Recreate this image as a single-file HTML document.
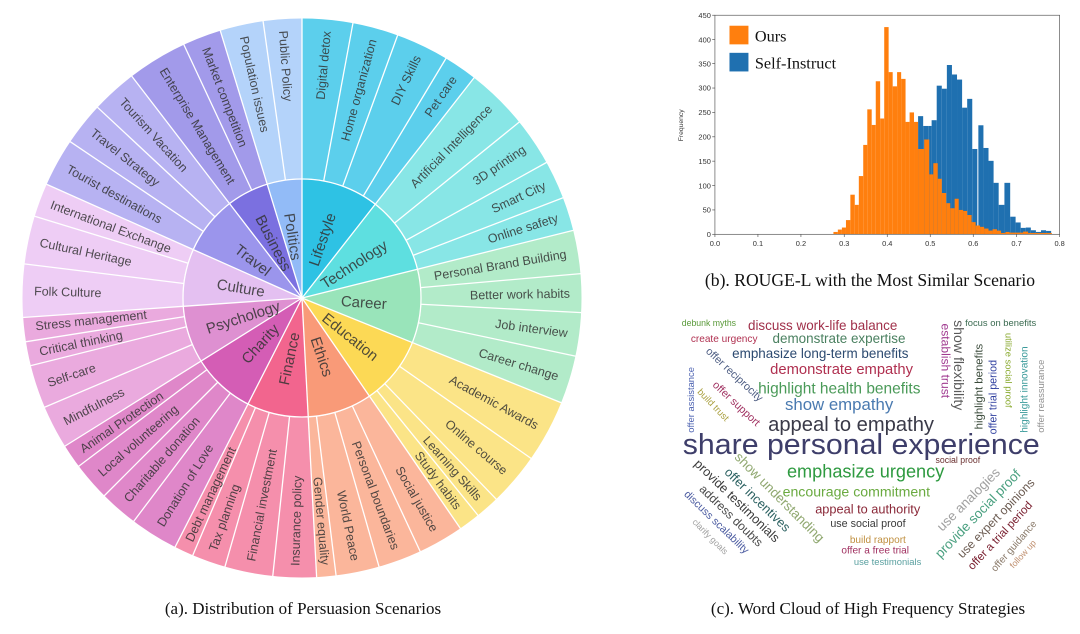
<!DOCTYPE html>
<html><head><meta charset="utf-8"><style>
html,body{margin:0;padding:0;background:#fff;width:1080px;height:634px;overflow:hidden;position:relative}
svg{position:absolute}
.lf{font-family:"Liberation Sans",sans-serif;font-size:12.5px;fill:#333;fill-opacity:.85}
.in{font-family:"Liberation Sans",sans-serif;font-size:15px;fill:#333;fill-opacity:.85}
.cap{font-family:"Liberation Serif",serif;font-size:17px;fill:#111}
.wc text{font-family:"Liberation Sans",sans-serif}
</style></head><body>
<svg width="1080" height="634" style="left:0;top:0">
<text class="cap" x="303" y="614" text-anchor="middle">(a). Distribution of Persuasion Scenarios</text>
<text class="cap" x="868" y="614" text-anchor="middle">(c). Word Cloud of High Frequency Strategies</text>
</svg>

<svg width="610" height="600" style="left:0;top:0">
<g transform="translate(302,298)" fill="none">
<g stroke-width="119">
<circle r="59.5" pathLength="360" stroke="#2ec2e4" stroke-dasharray="38 360" transform="rotate(-90)"/>
<circle r="59.5" pathLength="360" stroke="#5edfe0" stroke-dasharray="38 360" transform="rotate(-52)"/>
<circle r="59.5" pathLength="360" stroke="#99e4ba" stroke-dasharray="36 360" transform="rotate(-14)"/>
<circle r="59.5" pathLength="360" stroke="#fcd955" stroke-dasharray="33.5 360" transform="rotate(22)"/>
<circle r="59.5" pathLength="360" stroke="#f99a78" stroke-dasharray="31.5 360" transform="rotate(55.5)"/>
<circle r="59.5" pathLength="360" stroke="#f2658e" stroke-dasharray="30 360" transform="rotate(87)"/>
<circle r="59.5" pathLength="360" stroke="#d45db5" stroke-dasharray="31 360" transform="rotate(117)"/>
<circle r="59.5" pathLength="360" stroke="#de90d1" stroke-dasharray="28 360" transform="rotate(148)"/>
<circle r="59.5" pathLength="360" stroke="#e4c0f1" stroke-dasharray="28 360" transform="rotate(176)"/>
<circle r="59.5" pathLength="360" stroke="#9b95ec" stroke-dasharray="28.5 360" transform="rotate(204)"/>
<circle r="59.5" pathLength="360" stroke="#7b70e0" stroke-dasharray="20.5 360" transform="rotate(232.5)"/>
<circle r="59.5" pathLength="360" stroke="#92bbf7" stroke-dasharray="17 360" transform="rotate(253)"/>
</g>
<g stroke-width="160">
<circle r="199.5" pathLength="360" stroke="#5ccfec" stroke-dasharray="38 360" transform="rotate(-90)"/>
<circle r="199.5" pathLength="360" stroke="#88e6e6" stroke-dasharray="38 360" transform="rotate(-52)"/>
<circle r="199.5" pathLength="360" stroke="#b2ebc9" stroke-dasharray="36 360" transform="rotate(-14)"/>
<circle r="199.5" pathLength="360" stroke="#fbe487" stroke-dasharray="33.5 360" transform="rotate(22)"/>
<circle r="199.5" pathLength="360" stroke="#fbb69b" stroke-dasharray="31.5 360" transform="rotate(55.5)"/>
<circle r="199.5" pathLength="360" stroke="#f58fac" stroke-dasharray="30 360" transform="rotate(87)"/>
<circle r="199.5" pathLength="360" stroke="#df87c9" stroke-dasharray="31 360" transform="rotate(117)"/>
<circle r="199.5" pathLength="360" stroke="#eaaade" stroke-dasharray="28 360" transform="rotate(148)"/>
<circle r="199.5" pathLength="360" stroke="#eecdf5" stroke-dasharray="28 360" transform="rotate(176)"/>
<circle r="199.5" pathLength="360" stroke="#b7b2f2" stroke-dasharray="28.5 360" transform="rotate(204)"/>
<circle r="199.5" pathLength="360" stroke="#a29aea" stroke-dasharray="20.5 360" transform="rotate(232.5)"/>
<circle r="199.5" pathLength="360" stroke="#b4d3fa" stroke-dasharray="17 360" transform="rotate(253)"/>
</g>
<g stroke="#fff" stroke-width="1.3">
<circle r="119"/>
<line x1="0" x2="119" transform="rotate(-90)"/><line x1="0" x2="119" transform="rotate(-52)"/><line x1="0" x2="119" transform="rotate(-14)"/><line x1="0" x2="119" transform="rotate(22)"/><line x1="0" x2="119" transform="rotate(55.5)"/><line x1="0" x2="119" transform="rotate(87)"/><line x1="0" x2="119" transform="rotate(117)"/><line x1="0" x2="119" transform="rotate(148)"/><line x1="0" x2="119" transform="rotate(176)"/><line x1="0" x2="119" transform="rotate(204)"/><line x1="0" x2="119" transform="rotate(232.5)"/><line x1="0" x2="119" transform="rotate(253)"/>
<line x1="119" x2="280" transform="rotate(-90)"/><line x1="119" x2="280" transform="rotate(-79.5)"/><line x1="119" x2="280" transform="rotate(-70)"/><line x1="119" x2="280" transform="rotate(-59)"/><line x1="119" x2="280" transform="rotate(-52)"/>
<line x1="119" x2="280" transform="rotate(-39)"/><line x1="119" x2="280" transform="rotate(-29)"/><line x1="119" x2="280" transform="rotate(-21)"/><line x1="119" x2="280" transform="rotate(-14)"/>
<line x1="119" x2="280" transform="rotate(-5)"/><line x1="119" x2="280" transform="rotate(3)"/><line x1="119" x2="280" transform="rotate(12)"/><line x1="119" x2="280" transform="rotate(22)"/>
<line x1="119" x2="280" transform="rotate(35)"/><line x1="119" x2="280" transform="rotate(46)"/><line x1="119" x2="280" transform="rotate(51)"/><line x1="119" x2="280" transform="rotate(55.5)"/>
<line x1="119" x2="280" transform="rotate(65)"/><line x1="119" x2="280" transform="rotate(74)"/><line x1="119" x2="280" transform="rotate(83)"/><line x1="119" x2="280" transform="rotate(87)"/>
<line x1="119" x2="280" transform="rotate(96)"/><line x1="119" x2="280" transform="rotate(106)"/><line x1="119" x2="280" transform="rotate(113)"/><line x1="119" x2="280" transform="rotate(117)"/>
<line x1="119" x2="280" transform="rotate(127)"/><line x1="119" x2="280" transform="rotate(135)"/><line x1="119" x2="280" transform="rotate(143)"/><line x1="119" x2="280" transform="rotate(148)"/>
<line x1="119" x2="280" transform="rotate(157)"/><line x1="119" x2="280" transform="rotate(166)"/><line x1="119" x2="280" transform="rotate(171)"/><line x1="119" x2="280" transform="rotate(176)"/>
<line x1="119" x2="280" transform="rotate(187)"/><line x1="119" x2="280" transform="rotate(197)"/><line x1="119" x2="280" transform="rotate(204)"/>
<line x1="119" x2="280" transform="rotate(214)"/><line x1="119" x2="280" transform="rotate(223)"/><line x1="119" x2="280" transform="rotate(232.5)"/>
<line x1="119" x2="280" transform="rotate(245)"/><line x1="119" x2="280" transform="rotate(253)"/><line x1="119" x2="280" transform="rotate(262)"/>
</g>
<g class="in" text-anchor="middle">
<text transform="rotate(-71)" x="62" dy=".35em">Lifestyle</text>
<text transform="rotate(-33)" x="62" dy=".35em">Technology</text>
<text transform="rotate(4)" x="62" dy=".35em">Career</text>
<text transform="rotate(38.75)" x="62" dy=".35em">Education</text>
<text transform="rotate(71.25)" x="62" dy=".35em">Ethics</text>
<text transform="rotate(-78)" x="-62" dy=".35em">Finance</text>
<text transform="rotate(-47.5)" x="-62" dy=".35em">Charity</text>
<text transform="rotate(-18)" x="-62" dy=".35em">Psychology</text>
<text transform="rotate(9.5)" x="-62" dy=".35em">Culture</text>
<text transform="rotate(37.75)" x="-62" dy=".35em">Travel</text>
<text transform="rotate(62.75)" x="-62" dy=".35em">Business</text>
<text transform="rotate(81.5)" x="-62" dy=".35em">Politics</text>
</g>
<g class="lf" text-anchor="end">
<text transform="rotate(-84.75)" x="268" dy=".35em">Digital detox</text>
<text transform="rotate(-74.75)" x="268" dy=".35em">Home organization</text>
<text transform="rotate(-64.5)" x="268" dy=".35em">DIY Skills</text>
<text transform="rotate(-55.5)" x="268" dy=".35em">Pet care</text>
<text transform="rotate(-45.5)" x="268" dy=".35em">Artificial Intelligence</text>
<text transform="rotate(-34)" x="268" dy=".35em">3D printing</text>
<text transform="rotate(-25)" x="268" dy=".35em">Smart City</text>
<text transform="rotate(-17.5)" x="268" dy=".35em">Online safety</text>
<text transform="rotate(-9.5)" x="268" dy=".35em">Personal Brand Building</text>
<text transform="rotate(-1)" x="268" dy=".35em">Better work habits</text>
<text transform="rotate(7.5)" x="268" dy=".35em">Job interview</text>
<text transform="rotate(17)" x="268" dy=".35em">Career change</text>
<text transform="rotate(28.5)" x="268" dy=".35em">Academic Awards</text>
<text transform="rotate(40.5)" x="268" dy=".35em">Online course</text>
<text transform="rotate(48.5)" x="268" dy=".35em">Learning Skills</text>
<text transform="rotate(53.25)" x="262" dy=".35em">Study habits</text>
<text transform="rotate(60.25)" x="268" dy=".35em">Social justice</text>
<text transform="rotate(69.5)" x="268" dy=".35em">Personal boundaries</text>
<text transform="rotate(78.5)" x="268" dy=".35em">World Peace</text>
<text transform="rotate(85)" x="268" dy=".35em">Gender equality</text>
</g>
<g class="lf" text-anchor="start">
<text transform="rotate(-88.5)" x="-268" dy=".35em">Insurance policy</text>
<text transform="rotate(-79)" x="-268" dy=".35em">Financial investment</text>
<text transform="rotate(-70.5)" x="-268" dy=".35em">Tax planning</text>
<text transform="rotate(-65)" x="-268" dy=".35em">Debt management</text>
<text transform="rotate(-58)" x="-268" dy=".35em">Donation of Love</text>
<text transform="rotate(-49)" x="-268" dy=".35em">Charitable donation</text>
<text transform="rotate(-41)" x="-268" dy=".35em">Local volunteering</text>
<text transform="rotate(-34.5)" x="-268" dy=".35em">Animal Protection</text>
<text transform="rotate(-27.5)" x="-268" dy=".35em">Mindfulness</text>
<text transform="rotate(-18.5)" x="-268" dy=".35em">Self-care</text>
<text transform="rotate(-11.5)" x="-268" dy=".35em">Critical thinking</text>
<text transform="rotate(-6)" x="-268" dy=".35em">Stress management</text>
<text transform="rotate(1.5)" x="-268" dy=".35em">Folk Culture</text>
<text transform="rotate(12)" x="-268" dy=".35em">Cultural Heritage</text>
<text transform="rotate(20.5)" x="-268" dy=".35em">International Exchange</text>
<text transform="rotate(29)" x="-268" dy=".35em">Tourist destinations</text>
<text transform="rotate(38.5)" x="-268" dy=".35em">Travel Strategy</text>
<text transform="rotate(47.75)" x="-268" dy=".35em">Tourism Vacation</text>
<text transform="rotate(58.75)" x="-268" dy=".35em">Enterprise Management</text>
<text transform="rotate(69)" x="-268" dy=".35em">Market competition</text>
<text transform="rotate(77.5)" x="-268" dy=".35em">Population issues</text>
<text transform="rotate(86)" x="-268" dy=".35em">Public Policy</text>
</g>
</g>
</svg>

<svg width="420" height="300" viewBox="0 0 1240 886" style="left:660px;top:0">
<g fill="#1f70b0">
<rect x="762" y="343" width="15" height="349"/><rect x="777" y="372" width="15" height="320"/><rect x="792" y="372" width="10" height="320"/><rect x="802" y="355" width="15" height="337"/>
<rect x="817" y="253" width="15" height="439"/><rect x="832" y="262" width="15" height="430"/><rect x="847" y="192" width="15" height="500"/><rect x="862" y="220" width="15" height="472"/>
<rect x="877" y="235" width="15" height="457"/><rect x="892" y="318" width="15" height="374"/><rect x="907" y="292" width="15" height="400"/><rect x="922" y="440" width="15" height="252"/>
<rect x="940" y="370" width="15" height="322"/><rect x="955" y="437" width="15" height="255"/><rect x="970" y="475" width="15" height="217"/><rect x="985" y="540" width="15" height="152"/>
<rect x="1000" y="605" width="17" height="87"/><rect x="1017" y="540" width="17" height="152"/><rect x="1034" y="640" width="16" height="52"/><rect x="1050" y="657" width="15" height="35"/>
<rect x="1065" y="673" width="15" height="19"/><rect x="1080" y="672" width="15" height="20"/><rect x="1095" y="680" width="15" height="12"/><rect x="1110" y="685" width="15" height="7"/>
<rect x="1125" y="680" width="15" height="12"/><rect x="1140" y="682" width="15" height="10"/>
</g>
<g fill="#ff7f0e">
<rect x="512" y="685" width="13" height="7"/><rect x="525" y="678" width="12" height="14"/><rect x="537" y="672" width="12" height="20"/><rect x="549" y="650" width="13" height="42"/>
<rect x="562" y="575" width="13" height="117"/><rect x="575" y="605" width="12" height="87"/><rect x="587" y="520" width="13" height="172"/><rect x="600" y="428" width="12" height="264"/>
<rect x="612" y="323" width="13" height="369"/><rect x="625" y="369" width="12" height="323"/><rect x="637" y="240" width="13" height="452"/><rect x="650" y="350" width="12" height="342"/>
<rect x="662" y="80" width="13" height="612"/><rect x="675" y="213" width="12" height="479"/><rect x="687" y="255" width="13" height="437"/><rect x="700" y="213" width="12" height="479"/>
<rect x="712" y="233" width="13" height="459"/><rect x="725" y="360" width="12" height="332"/><rect x="737" y="332" width="13" height="360"/><rect x="750" y="360" width="12" height="332"/>
<rect x="762" y="440" width="18" height="252"/><rect x="780" y="412" width="15" height="280"/><rect x="795" y="515" width="12" height="177"/><rect x="807" y="482" width="13" height="210"/>
<rect x="820" y="528" width="12" height="164"/><rect x="832" y="570" width="13" height="122"/><rect x="845" y="600" width="12" height="92"/><rect x="857" y="615" width="13" height="77"/>
<rect x="870" y="587" width="12" height="105"/><rect x="882" y="620" width="13" height="72"/><rect x="895" y="623" width="12" height="69"/><rect x="907" y="635" width="13" height="57"/>
<rect x="920" y="656" width="12" height="36"/><rect x="932" y="666" width="13" height="26"/><rect x="945" y="670" width="12" height="22"/><rect x="957" y="675" width="13" height="17"/>
<rect x="970" y="681" width="12" height="11"/><rect x="982" y="677" width="13" height="15"/><rect x="995" y="681" width="12" height="11"/><rect x="1007" y="688" width="13" height="4"/>
<rect x="1020" y="685" width="12" height="7"/><rect x="1032" y="687" width="40" height="5"/><rect x="1072" y="684" width="15" height="8"/><rect x="1087" y="688" width="70" height="4"/>
</g>
<rect x="162" y="45" width="1018" height="647" fill="none" stroke="#555" stroke-width="2"/>
<g stroke="#555" stroke-width="2">
<line x1="154" x2="162" y1="692" y2="692"/><line x1="154" x2="162" y1="620" y2="620"/><line x1="154" x2="162" y1="548" y2="548"/><line x1="154" x2="162" y1="476" y2="476"/><line x1="154" x2="162" y1="404" y2="404"/><line x1="154" x2="162" y1="332" y2="332"/><line x1="154" x2="162" y1="260" y2="260"/><line x1="154" x2="162" y1="188" y2="188"/><line x1="154" x2="162" y1="117" y2="117"/><line x1="154" x2="162" y1="45" y2="45"/>
<line y1="692" y2="700" x1="162" x2="162"/><line y1="692" y2="700" x1="289" x2="289"/><line y1="692" y2="700" x1="416" x2="416"/><line y1="692" y2="700" x1="544" x2="544"/><line y1="692" y2="700" x1="671" x2="671"/><line y1="692" y2="700" x1="798" x2="798"/><line y1="692" y2="700" x1="925" x2="925"/><line y1="692" y2="700" x1="1053" x2="1053"/><line y1="692" y2="700" x1="1180" x2="1180"/>
</g>
<g font-family="Liberation Sans, sans-serif" font-size="22" fill="#333" text-anchor="end">
<text x="150" y="700">0</text><text x="150" y="628">50</text><text x="150" y="556">100</text><text x="150" y="484">150</text><text x="150" y="412">200</text><text x="150" y="340">250</text><text x="150" y="268">300</text><text x="150" y="196">350</text><text x="150" y="125">400</text><text x="150" y="53">450</text>
</g>
<g font-family="Liberation Sans, sans-serif" font-size="22" fill="#333" text-anchor="middle">
<text x="162" y="727">0.0</text><text x="289" y="727">0.1</text><text x="416" y="727">0.2</text><text x="544" y="727">0.3</text><text x="671" y="727">0.4</text><text x="798" y="727">0.5</text><text x="925" y="727">0.6</text><text x="1053" y="727">0.7</text><text x="1180" y="727">0.8</text>
</g>
<text transform="rotate(-90 68 370)" x="68" y="370" text-anchor="middle" font-family="Liberation Sans, sans-serif" font-size="20" fill="#333">Frequency</text>
<rect x="205" y="76" width="56" height="55" fill="#ff7f0e"/>
<rect x="205" y="156" width="56" height="55" fill="#1f70b0"/>
<text x="280" y="122" font-family="Liberation Serif, serif" font-size="48" fill="#111">Ours</text>
<text x="280" y="202" font-family="Liberation Serif, serif" font-size="48" fill="#111">Self-Instruct</text>
<text x="620" y="845" text-anchor="middle" font-family="Liberation Serif, serif" font-size="52" fill="#111">(b). ROUGE-L with the Most Similar Scenario</text>
</svg>

<svg class="wc" width="400" height="270" viewBox="0 0 1190 803" style="left:670px;top:310px">
<text x="35" y="48" font-size="26" fill="#5a9a3a">debunk myths</text>
<text x="232" y="60" font-size="40" fill="#a0304a">discuss work-life balance</text>
<text x="878" y="47" font-size="28" fill="#3a6a50">focus on benefits</text>
<text x="62" y="95" font-size="30" fill="#b03050">create urgency</text>
<text x="305" y="98" font-size="40" fill="#4a8060">demonstrate expertise</text>
<text x="185" y="143" font-size="40" fill="#2c4a70">emphasize long-term benefits</text>
<text x="298" y="190" font-size="44" fill="#b03050">demonstrate empathy</text>
<text x="262" y="248" font-size="46" fill="#4a9a58">highlight health benefits</text>
<text x="342" y="298" font-size="50" fill="#4a7ab0">show empathy</text>
<text x="292" y="360" font-size="60" fill="#3a3a48">appeal to empathy</text>
<text x="38" y="428" font-size="86" fill="#3e3e6a" textLength="1062" lengthAdjust="spacingAndGlyphs">share personal experience</text>
<text x="790" y="455" font-size="26" fill="#6a3030">social proof</text>
<text x="348" y="498" font-size="54" fill="#2e9a40">emphasize urgency</text>
<text x="335" y="555" font-size="42" fill="#6aaa40">encourage commitment</text>
<text x="432" y="605" font-size="38" fill="#8a2838">appeal to authority</text>
<text x="477" y="645" font-size="32" fill="#3a3a3a">use social proof</text>
<text x="535" y="693" font-size="30" fill="#c09040">build rapport</text>
<text x="510" y="725" font-size="30" fill="#a03060">offer a free trial</text>
<text x="547" y="758" font-size="28" fill="#5aa0a0">use testimonials</text>
<text transform="rotate(90 808 40)" x="808" y="40" font-size="36" fill="#a03a90">establish trust</text>
<text transform="rotate(90 845 30)" x="845" y="30" font-size="42" fill="#5a5a5a">show flexibility</text>
<text transform="rotate(90 998 68)" x="998" y="68" font-size="28" fill="#8aaa30">utilize social proof</text>
<text transform="rotate(-90 1112 365)" x="1112" y="365" font-size="28" fill="#909090">offer reassurance</text>
<text transform="rotate(-90 1064 365)" x="1064" y="365" font-size="30" fill="#3a9a9a">highlight innovation</text>
<text transform="rotate(-90 972 370)" x="972" y="370" font-size="32" fill="#3040a0">offer trial period</text>
<text transform="rotate(-90 930 355)" x="930" y="355" font-size="34" fill="#3a4a3a">highlight benefits</text>
<text transform="rotate(-90 72 365)" x="72" y="365" font-size="28" fill="#4a60b0">offer assistance</text>
<text transform="rotate(43 105 125)" x="105" y="125" font-size="32" fill="#4a5a80">offer reciprocity</text>
<text transform="rotate(43 125 225)" x="125" y="225" font-size="32" fill="#a03060">offer support</text>
<text transform="rotate(46 80 245)" x="80" y="245" font-size="28" fill="#aaa040">build trust</text>
<text transform="rotate(45 190 440)" x="190" y="440" font-size="40" fill="#90a870">show understanding</text>
<text transform="rotate(44 70 460)" x="70" y="460" font-size="38" fill="#3a3a3a">provide testimonials</text>
<text transform="rotate(44 160 485)" x="160" y="485" font-size="38" fill="#2a6060">offer incentives</text>
<text transform="rotate(44 85 535)" x="85" y="535" font-size="36" fill="#4a4a4a">address doubts</text>
<text transform="rotate(44 40 550)" x="40" y="550" font-size="32" fill="#4a5aa0">discuss scalability</text>
<text transform="rotate(45 65 632)" x="65" y="632" font-size="26" fill="#a0a0a0">clarify goals</text>
<text transform="rotate(-45 810 660)" x="810" y="660" font-size="40" fill="#a0a0a0">use analogies</text>
<text transform="rotate(-46 805 740)" x="805" y="740" font-size="40" fill="#4aa080">provide social proof</text>
<text transform="rotate(-46 870 740)" x="870" y="740" font-size="36" fill="#6a5a50">use expert opinions</text>
<text transform="rotate(-47 900 775)" x="900" y="775" font-size="34" fill="#7a2030">offer a trial period</text>
<text transform="rotate(-49 968 780)" x="968" y="780" font-size="30" fill="#8a7a6a">offer guidance</text>
<text transform="rotate(-48 1022 770)" x="1022" y="770" font-size="26" fill="#c09070">follow up</text>
</svg>
</body></html>
